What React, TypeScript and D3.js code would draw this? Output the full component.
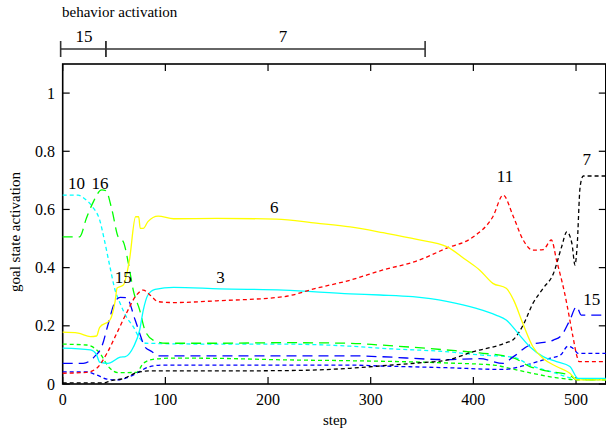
import React from "react";
import * as d3 from "d3";

// step ticks / activation ticks
const stepTicks = [0, 100, 200, 300, 400, 500];
const actTicks = [0, 0.2, 0.4, 0.6, 0.8, 1];
const actTickLabels = ["0", "0.2", "0.4", "0.6", "0.8", "1"];

// behavior activation bar
const behaviorNames = ["15", "7"];
const behaviorStart = [-2, 42];
const behaviorEnd = [42, 353];
const behaviorLabelAt = [20.7, 214.6];

// goal state activation, [step, value]
const goal6: [number, number][] = [[0,0.178],[15,0.175],[27,0.163],[33,0.165],[36,0.195],[46,0.22],[51,0.283],[53,0.33],[59,0.34],[65,0.426],[71,0.575],[74,0.575],[75.5,0.535],[78.5,0.535],[83,0.558],[93,0.577],[108,0.568],[150,0.569],[208,0.567],[247,0.553],[280,0.54],[312,0.52],[345,0.497],[374,0.472],[393,0.426],[406,0.392],[419,0.346],[432,0.329],[439,0.29],[448,0.21],[458,0.128],[468,0.088],[481,0.06],[494,0.037],[501,0.014],[529,0.014]];
const goal3: [number, number][] = [[0,0.123],[27,0.117],[33,0.1],[36,0.075],[44,0.071],[56,0.092],[61,0.094],[69,0.128],[75,0.186],[78.5,0.254],[83,0.306],[90,0.325],[108,0.332],[153,0.327],[215,0.323],[280,0.31],[309,0.306],[341,0.3],[374,0.284],[403,0.26],[422,0.237],[432,0.22],[445,0.168],[455,0.128],[468,0.094],[481,0.077],[494,0.06],[502,0.019],[529,0.019]];
const goal11: [number, number][] = [[0,0.037],[23,0.04],[33,0.054],[43,0.105],[52.6,0.174],[62,0.243],[72,0.306],[78.5,0.323],[85,0.306],[93,0.283],[108,0.28],[150,0.286],[215,0.3],[247,0.329],[280,0.357],[312,0.392],[345,0.423],[374,0.467],[400,0.506],[419,0.575],[429,0.649],[439,0.575],[448.5,0.495],[458,0.46],[468,0.462],[476,0.495],[481,0.426],[489,0.311],[497,0.163],[501,0.094],[503,0.077],[529,0.077]];
const goal7: [number, number][] = [[0,0.004],[40,0.004],[47,0.011],[60,0.02],[72,0.039],[85,0.045],[150,0.045],[215,0.046],[280,0.054],[309,0.062],[345,0.072],[374,0.082],[400,0.111],[432,0.142],[439,0.153],[448.5,0.203],[458,0.277],[468,0.329],[478,0.38],[486,0.472],[491,0.523],[496,0.483],[499,0.409],[501,0.47],[504,0.678],[507,0.715],[529,0.715]];
const goal15: [number, number][] = [[0,0.071],[20,0.071],[31,0.094],[38,0.128],[44.5,0.209],[51,0.283],[56,0.298],[62,0.297],[70.6,0.22],[75,0.174],[80,0.128],[87,0.111],[93,0.097],[153,0.097],[280,0.097],[309,0.094],[374,0.084],[406,0.087],[429,0.071],[439,0.094],[455,0.134],[478,0.151],[486,0.168],[494,0.22],[500.6,0.266],[505,0.237],[529,0.237]];
const goalBlue2: [number, number][] = [[0,0.042],[23,0.042],[33,0.031],[43,0.017],[52.6,0.014],[62,0.021],[72,0.037],[85,0.06],[98,0.065],[153,0.065],[280,0.065],[309,0.062],[374,0.056],[429,0.05],[448,0.062],[470,0.085],[485,0.1],[492,0.13],[498,0.12],[502,0.105],[529,0.105]];
const goal16: [number, number][] = [[0,0.506],[16.5,0.506],[23,0.569],[29,0.62],[38,0.667],[42,0.665],[48,0.598],[54,0.506],[59,0.489],[64,0.415],[68.7,0.323],[75,0.254],[80,0.186],[88,0.151],[101,0.14],[153,0.14],[215,0.142],[280,0.14],[309,0.134],[374,0.117],[406,0.107],[439,0.09],[455,0.06],[471,0.045],[494,0.03],[501,0.014],[529,0.014]];
const goalGreen2: [number, number][] = [[0,0.137],[23,0.134],[35,0.111],[46,0.054],[54,0.039],[72,0.04],[78.5,0.071],[88,0.085],[108,0.089],[153,0.088],[215,0.083],[280,0.08],[377,0.072],[420,0.065],[440,0.05],[460,0.035],[480,0.022],[500,0.015],[529,0.015]];
const goal10: [number, number][] = [[0,0.649],[15,0.649],[21,0.638],[29,0.609],[36,0.564],[40.6,0.495],[46,0.403],[51,0.323],[56,0.277],[62,0.231],[68.7,0.197],[75,0.157],[81.5,0.14],[153,0.137],[215,0.137],[280,0.13],[309,0.123],[377,0.11],[406,0.1],[439,0.092],[455,0.065],[478,0.04],[497,0.02],[529,0.015]];

const series = [
  { data: goalGreen2, color: "#00ff00", dash: "4,3" },
  { data: goalBlue2, color: "#0000ff", dash: "4,3" },
  { data: goal10, color: "#00ffff", dash: "4,3" },
  { data: goal16, color: "#00ff00", dash: "10,6" },
  { data: goal15, color: "#0000ff", dash: "10,6" },
  { data: goal7, color: "#000000", dash: "4,3" },
  { data: goal3, color: "#00ffff", dash: "" },
  { data: goal11, color: "#ff0000", dash: "4,3" },
  { data: goal6, color: "#ffff00", dash: "" },
];

// curve labels
const labelText = ["10", "16", "15", "3", "6", "11", "7", "15"];
const labelStep = [13.4, 36.3, 59, 153.7, 206, 430.8, 510.4, 515.3];
const labelValue = [0.669, 0.671, 0.346, 0.347, 0.588, 0.695, 0.753, 0.272];

const W = 606, H = 430;
const font = "'Liberation Serif', 'Times New Roman', serif";

export default function App() {
  const x = d3.scaleLinear().domain([0, 529]).range([62.7, 605.8]);
  const y = d3.scaleLinear().domain([0, 1.1]).range([384, 64]);
  const line = d3.line<[number, number]>()
    .x(d => x(d[0]))
    .y(d => y(d[1]))
    .curve(d3.curveMonotoneX);

  return (
    <svg width={W} height={H} style={{ position: "absolute", left: 0, top: 0, background: "#fff" }} fontFamily={font}>
      {/* behavior activation */}
      <text x={62} y={17} fontSize={15}>behavior activation</text>
      {behaviorNames.map((b, i) => (
        <g key={"b" + i} stroke="#333" strokeWidth={1.6}>
          <line x1={x(behaviorStart[i])} x2={x(behaviorEnd[i])} y1={49} y2={49} />
          <line x1={x(behaviorStart[i])} x2={x(behaviorStart[i])} y1={41} y2={57} />
          <line x1={x(behaviorEnd[i])} x2={x(behaviorEnd[i])} y1={41} y2={57} />
          <text x={x(behaviorLabelAt[i])} y={42} fontSize={17} textAnchor="middle" stroke="none" fill="#000">{b}</text>
        </g>
      ))}

      {/* frame */}
      <rect x={x(0)} y={y(1.1)} width={x(529) - x(0)} height={y(0) - y(1.1)} fill="none" stroke="#000" strokeWidth={1.6} />
      {stepTicks.map(t => (
        <g key={"xt" + t}>
          <line x1={x(t)} x2={x(t)} y1={y(0)} y2={y(0) - 7} stroke="#000" strokeWidth={1.2} />
          <line x1={x(t)} x2={x(t)} y1={y(1.1)} y2={y(1.1) + 7} stroke="#000" strokeWidth={1.2} />
          <text x={x(t)} y={405} fontSize={16} textAnchor="middle">{t}</text>
        </g>
      ))}
      {actTicks.map((t, i) => (
        <g key={"yt" + t}>
          <line x1={x(0)} x2={x(0) + 7} y1={y(t)} y2={y(t)} stroke="#000" strokeWidth={1.2} />
          <line x1={x(529)} x2={x(529) - 7} y1={y(t)} y2={y(t)} stroke="#000" strokeWidth={1.2} />
          <text x={55} y={y(t)} dy="0.35em" fontSize={16} textAnchor="end">{actTickLabels[i]}</text>
        </g>
      ))}

      {/* goal curves */}
      {series.map((s, i) => (
        <path key={"s" + i} d={line(s.data) || ""} fill="none" stroke={s.color} strokeWidth={1.3} strokeDasharray={s.dash} />
      ))}

      {labelText.map((l, i) => (
        <text key={"l" + i} x={x(labelStep[i])} y={y(labelValue[i])} fontSize={17} textAnchor="middle">{l}</text>
      ))}

      <text x={335} y={425} fontSize={15} textAnchor="middle">step</text>
      <text transform="translate(20,232) rotate(-90)" fontSize={15} textAnchor="middle">goal state activation</text>
    </svg>
  );
}
